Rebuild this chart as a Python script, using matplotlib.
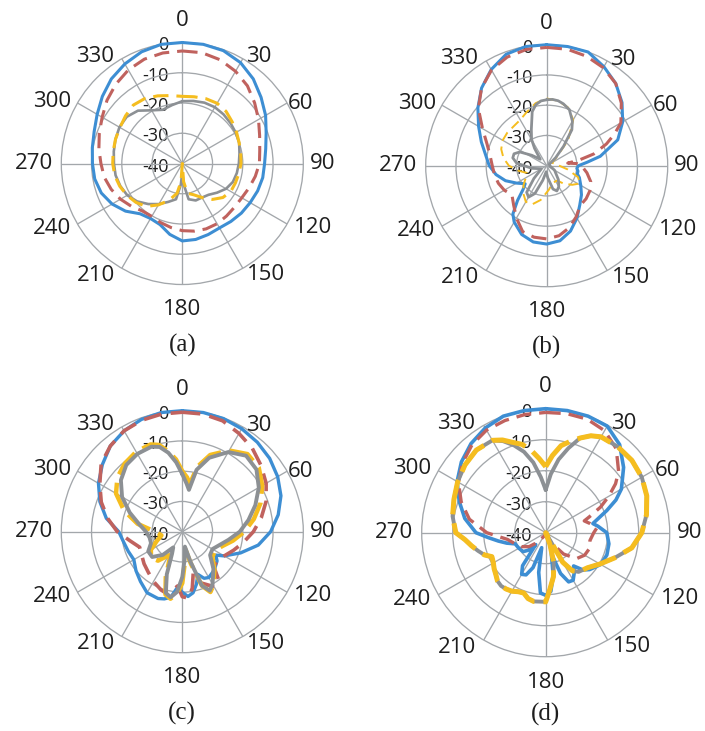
import numpy as np
import matplotlib
matplotlib.use("Agg")
import matplotlib.pyplot as plt
from matplotlib.transforms import offset_copy

# ---------------- data (dB vs angle in degrees) ----------------
# panel (a)
a_ang = list(range(0, 360, 10))
a_blue = [0, 0, -0.3, -1.5, -3.5, -6, -8.2, -10.5, -12, -12.8, -13, -13.5, -14.1, -14.5, -15, -15.4,
          -15, -14.5, -14.4, -16.2, -18.5, -19, -18.3, -15.5, -13.2, -11.5, -10.6, -10.3, -9.8, -9,
          -7.5, -5.5, -3.5, -2, -0.7, 0]
a_red = [-2.8, -2.8, -3.5, -4.8, -6.5, -8.8, -10.9, -12.8, -14, -14.5, -15.5, -16.5, -17.3, -17.5,
         -17.3, -17, -17, -17.3, -17.8, -18.5, -19.2, -19.8, -19.5, -18, -16.4, -15, -13.8, -13.1,
         -12, -10.8, -9.4, -7.5, -5.8, -4.3, -3.3, -2.9]
a_ang2 = [0, 10, 20, 30, 40, 50, 60, 70, 80, 90, 100, 110, 120, 130, 140, 150, 160, 170, 176, 180,
          184, 190, 200, 210, 220, 230, 240, 250, 260, 270, 280, 290, 300, 310, 320, 330, 340, 350]
a_yellow = [-17.8, -17.6, -17.2, -17, -17.5, -18.5, -19.3, -20, -20.4, -20.6, -21, -21.3, -21.5,
            -22.5, -24.5, -27, -29, -30, -34, -40, -34, -30, -27, -24.2, -21.5, -20, -18.9, -18,
            -17.3, -17, -16.8, -16.5, -16.2, -15.5, -14.8, -15.2, -16.2, -17.2]
a_gray = [-19.4, -19, -18.6, -18.5, -18.8, -19.2, -19.6, -20, -20.8, -21.3, -21.7, -22.2, -23.3,
          -25, -26.5, -27, -27, -28, -33, -37, -33, -28, -26.5, -24.5, -22.5, -20.5, -19, -18.2,
          -17.6, -17.4, -17, -16.5, -16, -16, -17.2, -19.7, -21.1, -20.4]

# panel (b)
b_ang_blue = [0, 10, 20, 30, 40, 50, 60, 70, 80, 85, 90, 95, 100, 105, 110, 120, 130, 140, 150, 160,
              170, 180, 190, 200, 210, 215, 220, 225, 230, 240, 250, 260, 270, 280, 290, 300, 310,
              320, 330, 340, 350]
b_blue = [0, 0, 0, -2.2, -4.5, -7.5, -11, -15, -22, -26.5, -29.5, -30, -29.5, -29.5, -28.5, -27,
          -25, -23, -20, -17, -14.8, -14.1, -14.4, -15.8, -18.5, -20.5, -25, -29, -30.7, -28.5,
          -25.5, -23, -21, -19.5, -17, -14, -10.3, -6.5, -3.3, -0.8, 0]
b_ang_red = [0, 10, 20, 30, 40, 50, 60, 65, 70, 76, 80, 83, 86, 90, 100, 110, 120, 130, 140, 150,
             160, 170, 180, 190, 200, 210, 220, 230, 240, 250, 260, 270, 280, 290, 300, 310, 320,
             330, 340, 350]
b_red = [-0.9, -0.9, -1.5, -2.6, -4.5, -7.8, -11.7, -15.3, -19, -24, -29, -33, -30, -28.5, -26.5,
         -24.5, -23.5, -23, -22.8, -20.5, -18.2, -16.5, -15.8, -16, -16.8, -20, -23, -25, -23.8,
         -23, -22.5, -22, -21, -19, -15.5, -10.5, -6.5, -3.5, -1.8, -1]
b_ang_gray = [0, 5, 10, 15, 22, 30, 35, 41, 48, 60, 90, 120, 140, 150, 158, 165, 175, 185, 195,
              203, 210, 217, 225, 240, 260, 275, 283, 290, 297, 305, 315, 325, 330, 337, 345, 350,
              355]
b_gray = [-18.2, -18, -18.2, -18.8, -20, -23, -25.5, -31.5, -36, -39, -39, -37, -34, -32, -31, -32,
          -36, -38, -35, -30, -28, -29, -34, -38, -35, -30, -28.5, -28.5, -30, -34, -37, -33, -30,
          -27, -21.5, -19.5, -18.5]
b_ang_yel = [0, 10, 20, 30, 40, 50, 60, 80, 100, 110, 118, 127, 137, 145, 160, 175, 190, 200, 210,
             220, 230, 240, 250, 260, 270, 280, 290, 300, 310, 320, 330, 340, 350]
b_yellow = [-17.8, -18.2, -19.5, -22.5, -29, -36, -38, -37, -33, -29, -27.5, -29.5, -32, -34, -34,
            -32, -28.5, -26.5, -26.2, -28, -30, -32, -33, -30.5, -27.5, -25.5, -24, -23.2, -23,
            -23, -22.5, -21, -19]

# panel (c)
c_ang_blue = [0, 10, 20, 30, 40, 50, 60, 70, 80, 90, 100, 110, 120, 125, 130, 140, 150, 155, 160,
              165, 170, 175, 180, 185, 190, 195, 200, 210, 220, 230, 240, 250, 260, 270, 280, 290,
              300, 310, 320, 330, 340, 350]
c_blue = [0, 0, -0.2, -0.7, -1.4, -2.3, -3.6, -5.3, -7.8, -10.8, -14.5, -19.5, -24, -26.5, -25,
          -23.5, -22.5, -23, -25, -22, -19.5, -18.5, -20, -21.5, -18, -17, -16.5, -16.7, -18.5,
          -20, -21.5, -21, -20.3, -19, -14.5, -11, -8, -5.5, -3, -1.5, -0.5, 0]
c_ang_red = [0, 10, 20, 30, 40, 50, 60, 70, 80, 90, 100, 110, 120, 130, 138, 143, 150, 160, 165,
             170, 175, 180, 185, 190, 195, 200, 210, 220, 230, 240, 250, 260, 270, 280, 290, 300,
             310, 320, 330, 340, 350]
c_red = [-0.5, -0.5, -1, -2.5, -4, -6, -8, -10.5, -13.5, -16.5, -19.5, -22, -24, -25, -24.4, -20,
         -19, -22, -26, -21, -18, -18.5, -22, -20, -19, -19.5, -21, -22.5, -23.5, -24.5, -25,
         -22.5, -18.5, -15, -11.5, -8.5, -5, -3, -1.5, -0.8, -0.5]
c_ang2 = [0, 5, 9, 13, 20, 30, 40, 50, 60, 70, 80, 90, 100, 110, 120, 130, 140, 150, 155, 160, 165,
          170, 175, 180, 185, 190, 195, 200, 205, 210, 220, 230, 240, 250, 260, 270, 280, 290, 300,
          310, 320, 330, 340, 345, 350, 355]
c_gray = [-21, -24, -26, -19, -14, -9.6, -7.2, -8, -10.8, -14.3, -17.8, -21, -24.5, -27, -28.5, -28,
          -24, -20, -18.5, -21, -30, -35, -31, -25, -20, -18, -19, -25, -32, -34, -30, -27, -27,
          -29, -29, -28, -25.5, -21.5, -17, -13.5, -11.2, -10.3, -10.1, -11, -13.5, -17]
c_yellow = [-20, -22, -24, -18, -13, -9, -6.5, -7, -9.5, -12.5, -16, -19.5, -23, -26, -27.5, -27,
            -23.5, -19.5, -18, -21, -29, -34, -30, -23, -19.5, -17.5, -18.5, -24, -30, -31, -27.5,
            -26.5, -28, -31, -33, -31, -25, -19.5, -14.7, -12, -10.5, -9.5, -9.3, -10.3, -13, -16]

# panel (d)
d_ang_blue = [0, 10, 20, 30, 40, 50, 60, 65, 70, 75, 79, 83, 90, 100, 110, 120, 130, 135, 140, 145,
              150, 155, 160, 165, 170, 175, 180, 185, 190, 195, 200, 205, 210, 215, 220, 225, 230,
              240, 250, 255, 260, 265, 270, 280, 290, 300, 310, 320, 330, 340, 350]
d_blue = [0, 0, 0, -0.3, -2.9, -7.2, -11.8, -15, -19, -22.5, -24.5, -23, -20.3, -19.3, -19, -19.5,
          -21.5, -23, -26, -24, -22.3, -22.5, -26, -33, -26, -21, -19.8, -20.5, -27, -35, -28, -25,
          -24.5, -27, -35, -32, -30.5, -30, -29.5, -27, -24.5, -21.5, -17.5, -13.5, -10.3, -7,
          -4.5, -2.5, -1, 0, 0]
d_ang_red = [0, 10, 20, 30, 40, 50, 55, 60, 65, 70, 73, 78, 85, 90, 100, 110, 120, 130, 140, 150,
             160, 200, 220, 230, 240, 250, 260, 270, 280, 290, 300, 310, 320, 330, 340, 350]
d_red = [-1.2, -1, -1, -2, -4.6, -9.3, -12.5, -16.5, -20.5, -25, -27, -25.5, -23.5, -24.5, -25.5,
         -25, -25.5, -27, -31, -36, -39, -39, -36, -33, -31, -29.5, -27.5, -21, -15, -11, -7.5, -5,
         -3, -1.8, -1.5, -1.3]
d_ang2 = [0, 5, 10, 15, 20, 25, 30, 40, 50, 60, 70, 80, 90, 100, 110, 120, 130, 140, 145, 150, 155,
          160, 165, 170, 176, 180, 190, 195, 200, 205, 210, 215, 220, 225, 230, 235, 240, 246, 250,
          255, 260, 265, 270, 280, 290, 300, 310, 320, 330, 335, 340, 345, 350, 355]
d_gray = [-26.2, -21, -16, -11.8, -7.5, -5.5, -4.3, -3.8, -3.7, -4.2, -5.3, -7, -9, -11.8, -16.3,
          -19.8, -22.4, -23.5, -25, -29, -40, -36, -30, -25.6, -21.5, -17.7, -17.5, -18, -19.3,
          -19, -18.2, -17.8, -17.6, -18, -19, -19.7, -20.5, -21, -19, -17.4, -15.7, -13.9, -11,
          -9.5, -8.5, -7.2, -6, -5.2, -5.6, -7.4, -10, -13, -17, -22]
d_yellow = [-18.7, -15, -11.5, -9.5, -7.5, -5.5, -4.3, -3.8, -3.7, -4.2, -5.3, -7, -9, -11.8, -16.3,
            -19.8, -22.4, -23.5, -25, -29, -40, -36, -30, -25.6, -21.5, -17.7, -17.5, -18, -19.3,
            -19, -18.2, -17.8, -17.6, -18, -19, -19.7, -20.5, -21, -19, -17.4, -15.7, -13.9, -11,
            -9.5, -8.5, -7.2, -6, -5.2, -5.6, -7, -9, -10.5, -13, -16]

angle_labels = [0, 30, 60, 90, 120, 150, 180, 210, 240, 270, 300, 330]
radial_labels = [0, -10, -20, -30, -40]
captions = ["(a)", "(b)", "(c)", "(d)"]

# ---------------- style ----------------
BLUE = "#3D8ED3"
RED = "#C0625E"
YELLOW = "#F5BD1F"
GRAY = "#8C9094"
GRID = "#A3A7AB"
TXT = "#1E1E1E"
W, H = 705, 731

# label placement (angle of text centre, distance in px for R=121)
label_pos = {0: (0, 142.6), 30: (35.6, 131), 60: (63, 133), 90: (90, 140), 120: (116, 146),
             150: (143, 139.5), 180: (180, 145.7), 210: (217.8, 141.3), 240: (243.5, 146),
             270: (270, 148.3), 300: (295.6, 144), 330: (320.7, 138)}

def series(ang, val, color, lw, dashed, z, dash=(5, 2.6)):
    return dict(ang=ang, val=val, color=color, lw=lw, dashed=dashed, z=z, dash=dash)

panels = [
    dict(cx=182.3, cy=163.5, R=121, cap=captions[0],
         lines=[series(a_ang, a_blue, BLUE, 2.2, False, 1),
                series(a_ang, a_red, RED, 2.2, True, 2),
                series(a_ang2, a_gray, GRAY, 1.9, False, 3),
                series(a_ang2, a_yellow, YELLOW, 2.2, True, 4)]),
    dict(cx=546.7, cy=165.7, R=121, cap=captions[1],
         lines=[series(b_ang_blue, b_blue, BLUE, 2.2, False, 1),
                series(b_ang_red, b_red, RED, 2.2, True, 2),
                series(b_ang_yel, b_yellow, YELLOW, 1.4, True, 3, dash=(5, 3)),
                series(b_ang_gray, b_gray, GRAY, 2.0, False, 4)]),
    dict(cx=182.3, cy=531.7, R=121, cap=captions[2],
         lines=[series(c_ang_blue, c_blue, BLUE, 2.4, False, 1),
                series(c_ang_red, c_red, RED, 2.6, True, 2),
                series(c_ang2, c_yellow, YELLOW, 3.2, True, 3, dash=(6, 2)),
                series(c_ang2, c_gray, GRAY, 2.8, False, 4)]),
    dict(cx=545.7, cy=532.7, R=124, cap=captions[3],
         lines=[series(d_ang_blue, d_blue, BLUE, 2.6, False, 1),
                series(d_ang_red, d_red, RED, 2.4, True, 2, dash=(4.5, 2.4)),
                series(d_ang2, d_gray, GRAY, 2.8, False, 3),
                series(d_ang2, d_yellow, YELLOW, 3.6, True, 4, dash=(7, 1.8))]),
]

fig = plt.figure(figsize=(W / 100, H / 100), dpi=100)
fig.patch.set_facecolor("white")

for p in panels:
    cx, cy, R = p["cx"], p["cy"], p["R"]
    ax = fig.add_axes([(cx - R) / W, (H - cy - R) / H, 2 * R / W, 2 * R / H], projection="polar")
    ax.set_theta_zero_location("N")
    ax.set_theta_direction(-1)
    ax.set_rlim(-40, 0)
    ax.set_xticks(np.deg2rad(np.arange(0, 360, 30)))
    ax.set_xticklabels([])
    ax.set_yticks([-30, -20, -10])
    ax.set_yticklabels([])
    ax.tick_params(length=0)
    ax.grid(True, color=GRID, lw=0.95)
    ax.spines["polar"].set_color(GRID)
    ax.spines["polar"].set_linewidth(0.95)
    ax.set_facecolor("none")

    for s in p["lines"]:
        th = np.deg2rad(np.array(s["ang"] + [s["ang"][0]], dtype=float))
        rv = np.array(s["val"] + [s["val"][0]], dtype=float)
        ln, = ax.plot(th, rv, color=s["color"], lw=s["lw"], zorder=s["z"] + 2, clip_on=False,
                      solid_joinstyle="round", solid_capstyle="round")
        if s["dashed"]:
            ln.set_linestyle((0, s["dash"]))
            ln.set_dash_capstyle("butt")

    # radial labels
    tr = offset_copy(ax.transData, fig=fig, x=-14, y=-3, units="dots")
    for v in radial_labels:
        ax.text(0, v, str(v), transform=tr, ha="right", va="center", fontsize=13,
                family="Open Sans", color=TXT, zorder=1, clip_on=False)

    # angle labels
    for lab in angle_labels:
        a, D = label_pos[lab]
        D = D * R / 121.0
        r = -40 + 40 * D / R
        ax.text(np.deg2rad(a), r, str(lab), ha="center", va="center", fontsize=16,
                family="Open Sans", color=TXT, clip_on=False)

    fig.text(cx / W, 1 - (cy + 181.5) / H, p["cap"], ha="center", va="center",
             fontsize=18, family="Liberation Serif", color=TXT)

fig.savefig("out.png", dpi=100, facecolor="white")
